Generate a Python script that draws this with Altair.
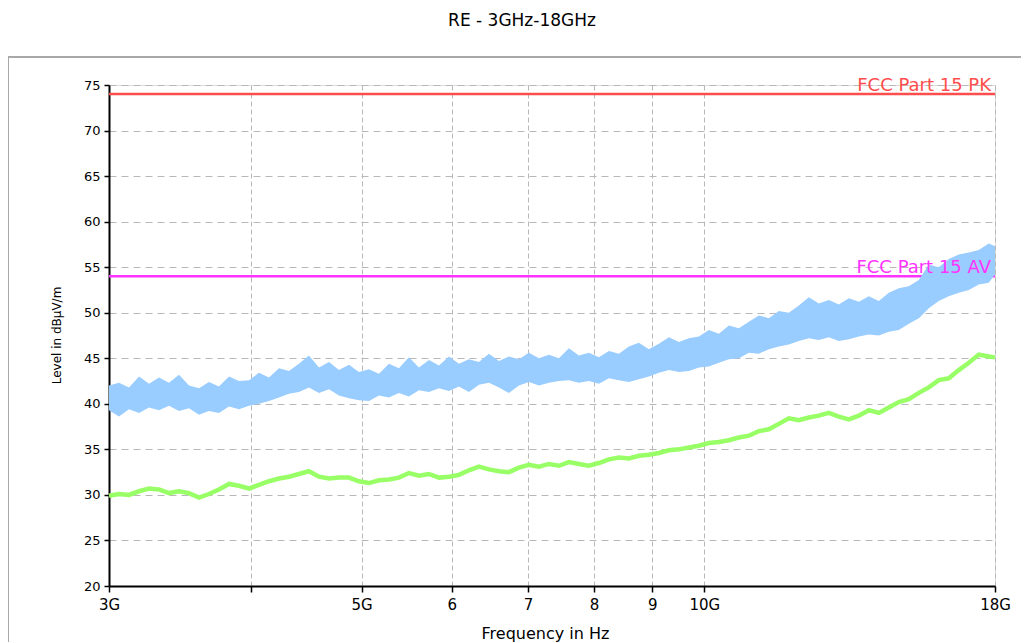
import altair as alt
import pandas as pd

# ---------------- data ----------------
TITLE = "RE - 3GHz-18GHz"

freq_ghz = [3.000, 3.061, 3.124, 3.188, 3.253, 3.319, 3.387, 3.456, 3.527, 3.599,
            3.672, 3.747, 3.824, 3.902, 3.982, 4.063, 4.146, 4.231, 4.317, 4.405,
            4.495, 4.587, 4.681, 4.776, 4.874, 4.973, 5.075, 5.179, 5.284, 5.392,
            5.502, 5.615, 5.730, 5.847, 5.966, 6.088, 6.212, 6.339, 6.469, 6.601,
            6.735, 6.873, 7.013, 7.157, 7.303, 7.452, 7.604, 7.759, 7.918, 8.080,
            8.245, 8.413, 8.585, 8.760, 8.939, 9.122, 9.308, 9.498, 9.692, 9.890,
            10.092, 10.298, 10.508, 10.723, 10.942, 11.165, 11.393, 11.626, 11.863, 12.106,
            12.353, 12.605, 12.863, 13.125, 13.394, 13.667, 13.946, 14.231, 14.522, 14.818,
            15.121, 15.430, 15.745, 16.066, 16.394, 16.729, 17.071, 17.420, 17.775, 18.000]

# Peak trace (light blue noisy band): lower / upper edge, dBµV/m
pk_low = [39.3, 38.6, 39.4, 39.0, 39.6, 39.3, 39.8, 39.2, 39.5, 38.8,
          39.2, 39.0, 39.7, 39.4, 39.8, 40.0, 40.3, 40.7, 41.1, 41.3,
          41.8, 41.2, 41.6, 40.9, 40.6, 40.4, 40.3, 40.9, 40.7, 41.2,
          40.8, 41.5, 41.3, 41.7, 41.4, 41.9, 41.3, 42.1, 42.3, 41.8,
          41.2, 42.0, 42.4, 42.0, 42.3, 42.5, 42.6, 42.3, 42.5, 42.2,
          42.8, 42.6, 42.4, 42.7, 43.0, 43.4, 43.7, 43.5, 43.6, 44.0,
          44.1, 44.5, 44.9, 45.0, 45.6, 45.5, 46.0, 46.3, 46.5, 46.9,
          47.2, 47.0, 47.3, 46.9, 47.1, 47.4, 47.6, 47.5, 47.9, 48.1,
          48.8, 49.4, 50.5, 51.3, 51.8, 52.2, 52.5, 53.1, 53.3, 54.2]
pk_high = [42.0, 42.3, 41.8, 43.0, 42.2, 42.9, 42.3, 43.2, 42.0, 41.7,
           42.4, 41.9, 43.0, 42.5, 42.6, 43.4, 42.9, 43.9, 43.6, 44.4,
           45.3, 44.0, 44.6, 43.7, 44.3, 43.5, 43.8, 43.3, 44.4, 43.9,
           45.1, 44.0, 44.8, 44.2, 45.2, 44.4, 44.9, 44.6, 45.5, 44.7,
           45.2, 44.9, 45.6, 45.0, 45.4, 45.0, 46.1, 45.3, 45.6, 45.1,
           45.8, 45.5, 46.3, 46.7, 46.0, 46.6, 47.3, 46.8, 47.2, 47.4,
           48.1, 47.7, 48.6, 48.3, 49.0, 49.7, 49.4, 50.2, 50.0, 50.8,
           51.7, 51.0, 51.4, 50.9, 51.6, 51.2, 51.8, 51.3, 52.2, 52.7,
           52.9, 53.6, 55.3, 55.0, 55.9, 56.4, 56.6, 56.9, 57.6, 57.3]

# Average trace (light green), dBµV/m
av_level = [29.9, 30.1, 30.0, 30.4, 30.7, 30.6, 30.2, 30.4, 30.2, 29.7,
            30.1, 30.6, 31.2, 31.0, 30.7, 31.1, 31.5, 31.8, 32.0, 32.3,
            32.6, 32.0, 31.8, 31.9, 31.9, 31.5, 31.3, 31.6, 31.7, 31.9,
            32.4, 32.1, 32.3, 31.9, 32.0, 32.2, 32.7, 33.1, 32.8, 32.6,
            32.5, 33.0, 33.3, 33.1, 33.4, 33.2, 33.6, 33.4, 33.2, 33.5,
            33.9, 34.1, 34.0, 34.3, 34.4, 34.6, 34.9, 35.0, 35.2, 35.4,
            35.7, 35.8, 36.0, 36.3, 36.5, 37.0, 37.2, 37.8, 38.4, 38.2,
            38.5, 38.7, 39.0, 38.6, 38.3, 38.7, 39.3, 39.0, 39.6, 40.2,
            40.5, 41.2, 41.8, 42.6, 42.8, 43.7, 44.5, 45.4, 45.2, 45.1]

# Limit lines
limit_names = ["FCC Part 15 PK", "FCC Part 15 AV"]
limit_levels = [74, 54]
limit_colors = ["#ff4d4d", "#ff33ff"]

# Axes
FREQ_MIN, FREQ_MAX = 3, 18
x_ticks = [3, 4, 5, 6, 7, 8, 9, 10, 18]
Y_MIN, Y_MAX = 20, 75
y_ticks = [20, 22.5, 25, 27.5, 30, 32.5, 35, 37.5, 40, 42.5, 45, 47.5,
           50, 52.5, 55, 57.5, 60, 62.5, 65, 67.5, 70, 72.5, 75]

FONT = "DejaVu Sans"

# ---------------- tables ----------------
pk_df = pd.DataFrame({"freq": freq_ghz, "low": pk_low, "high": pk_high})
av_df = pd.DataFrame({"freq": freq_ghz, "level": av_level})
lim_df = pd.DataFrame({"name": limit_names, "level": limit_levels,
                       "color": limit_colors, "fend": [FREQ_MAX] * len(limit_names)})

x_scale = alt.Scale(type="log", domain=[FREQ_MIN, FREQ_MAX], nice=False)
y_scale = alt.Scale(domain=[Y_MIN, Y_MAX], nice=False, zero=False)

x_label_expr = ("datum.value == 3 ? '3G' : datum.value == 4 ? '' : datum.value == 5 ? '5G' : "
                "datum.value == 10 ? '10G' : datum.value == 18 ? '18G' : datum.label")

x_axis = alt.Axis(values=x_ticks, labelExpr=x_label_expr, title="Frequency in Hz",
                  grid=True, gridDash=[5, 3], gridColor="#b8b8b8", gridWidth=1,
                  domainColor="black", domainWidth=2, tickColor="black", tickSize=6,
                  tickWidth=1.5, labelColor="black", labelFont=FONT, labelFontSize=15,
                  labelPadding=5, labelFlush=False, titleFont=FONT, titleFontSize=16,
                  titleFontWeight="normal", titleColor="black", titleX=436, titleY=39,
                  titleBaseline="top")
y_axis = alt.Axis(values=y_ticks, labelExpr="datum.value % 5 == 0 ? datum.label : ''",
                  title="Level in dBµV/m", grid=True, gridDash=[7, 5],
                  gridColor="#b8b8b8", gridWidth=1, domainColor="black", domainWidth=2,
                  tickColor="black", tickSize=5, tickWidth=1.5, labelColor="black",
                  labelFont=FONT, labelFontSize=13, labelPadding=4, titleFont=FONT,
                  titleFontSize=12, titleFontWeight="normal", titleColor="black",
                  titleX=-46, titleY=250, titleAlign="center", titleBaseline="bottom")

# outer frame (decoration)
frame = alt.Chart(pd.DataFrame({"a": [0]})).mark_rect(
    fill=None, stroke="#a8a8a8", strokeWidth=2
).encode(x=alt.value(-101), x2=alt.value(960), y=alt.value(-28), y2=alt.value(600))

band = alt.Chart(pk_df).mark_area(color="#99ccff", opacity=1).encode(
    x=alt.X("freq:Q", scale=x_scale, axis=x_axis),
    y=alt.Y("low:Q", scale=y_scale, axis=y_axis),
    y2="high:Q",
)

pk_rule = alt.Chart(lim_df).transform_filter(alt.datum.name == limit_names[0]).mark_rule(
    color=limit_colors[0], strokeWidth=2.5).encode(y=alt.Y("level:Q", scale=y_scale))
av_rule = alt.Chart(lim_df).transform_filter(alt.datum.name == limit_names[1]).mark_rule(
    color=limit_colors[1], strokeWidth=2.5).encode(y=alt.Y("level:Q", scale=y_scale))

av_line = alt.Chart(av_df).mark_line(color="#99ff66", strokeWidth=4.5).encode(
    x=alt.X("freq:Q", scale=x_scale),
    y=alt.Y("level:Q", scale=y_scale),
)

labels = alt.Chart(lim_df).mark_text(
    align="right", baseline="bottom", dx=-4, dy=1, font=FONT, fontSize=18
).encode(
    x=alt.X("fend:Q", scale=x_scale),
    y=alt.Y("level:Q", scale=y_scale),
    text="name:N",
    color=alt.Color("color:N", scale=None),
)

chart = alt.layer(frame, pk_rule, av_rule, band, av_line, labels).properties(
    width=886, height=501,
    title=alt.TitleParams(TITLE, font=FONT, fontSize=17, fontWeight="normal",
                          color="black", anchor="middle", frame="group", dx=-30, offset=26),
    padding={"left": 101, "top": 77, "right": 26, "bottom": 56},
    autosize="none",
).configure_view(stroke=None).configure(background="white")

chart.save("out.html", embed_options={"renderer": "svg", "actions": False})
